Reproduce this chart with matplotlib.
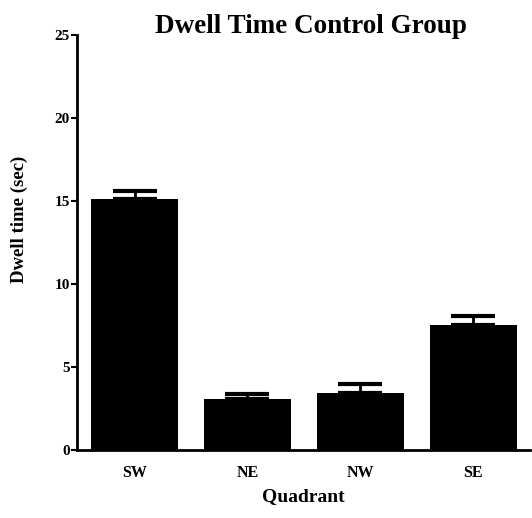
import numpy as np
import matplotlib.pyplot as plt

quadrants = ['SW', 'NE', 'NW', 'SE']
dwell_time = [15.1, 3.07, 3.43, 7.5]
sem = [0.5, 0.3, 0.57, 0.57]

plt.rcParams['font.family'] = 'Liberation Serif'
plt.rcParams['font.weight'] = 'bold'

fig = plt.figure(figsize=(5.32, 5.18), dpi=100)
ax = fig.add_axes([0.1447, 0.1313, 0.851, 0.8012])

x = np.arange(len(quadrants))
ax.bar(x, dwell_time, width=0.77, color='black')
# only upper error bars, like the original
ax.errorbar(x, dwell_time, yerr=[np.zeros(len(sem)), sem], fmt='none',
            ecolor='black', elinewidth=2, capsize=16, capthick=3)

ax.set_xlim(-0.51, 3.5)
ax.set_ylim(0, 25)
ax.set_yticks([0, 5, 10, 15, 20, 25])
ax.set_xticks(x)
ax.set_xticklabels(quadrants, fontsize=11.5, fontweight='bold')
ax.tick_params(axis='y', labelsize=11, length=4, width=1.5, pad=1)
ax.tick_params(axis='x', length=0, pad=11)
for lbl in ax.get_yticklabels():
    lbl.set_fontweight('bold')

ax.spines['top'].set_visible(False)
ax.spines['right'].set_visible(False)
ax.spines['left'].set_linewidth(2)
ax.spines['bottom'].set_linewidth(2)

ax.set_ylabel('Dwell time (sec)', fontsize=13.5, fontweight='bold')
ax.yaxis.set_label_coords(-0.108, 0.555)
ax.set_xlabel('Quadrant', fontsize=14, fontweight='bold', labelpad=5)
fig.text(0.585, 0.948, 'Dwell Time Control Group', fontsize=19.5,
         fontweight='bold', ha='center', va='center')

fig.savefig('out.png', dpi=100)
